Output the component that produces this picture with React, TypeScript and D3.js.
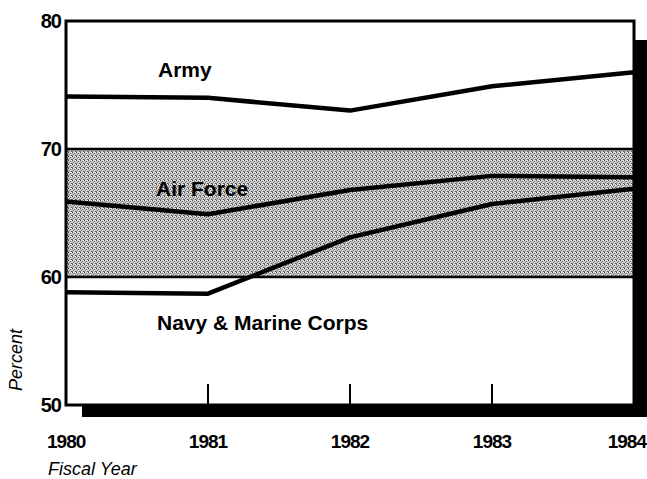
import React from "react";
import * as d3 from "d3";

const years = [1980, 1981, 1982, 1983, 1984];
const army = [74.1, 74.0, 73.0, 74.9, 76.0];
const airForce = [65.9, 64.9, 66.8, 67.9, 67.8];
const navy = [58.8, 58.7, 63.1, 65.7, 66.9];
const yTicks = [50, 60, 70, 80];
const band = [60, 70];

const W = 647;
const H = 479;
const left = 66;
const right = 634;
const top = 21;
const bottom = 405;

const App = () => {
  const x = d3.scaleLinear().domain([1980, 1984]).range([left, right]);
  const y = d3.scaleLinear().domain([50, 80]).range([bottom, top]);

  const line = d3
    .line<number>()
    .x((_, i) => x(years[i]))
    .y((d) => y(d));

  const series = [
    { name: "Army", values: army, lx: 158, ly: 77 },
    { name: "Air Force", values: airForce, lx: 156, ly: 196 },
    { name: "Navy & Marine Corps", values: navy, lx: 157, ly: 330 },
  ];

  const font = "'Liberation Sans', Arial, sans-serif";

  return (
    <svg
      width={W}
      height={H}
      style={{ position: "absolute", left: 0, top: 0, background: "#fff" }}
    >
      <defs>
        <pattern id="stipple" width="4" height="4" patternUnits="userSpaceOnUse">
          <rect width="4" height="4" fill="#c4c4c4" />
          <rect x="0" y="0" width="1" height="1" fill="#444" />
          <rect x="2" y="1" width="1" height="1" fill="#666" />
          <rect x="1" y="2" width="1" height="1" fill="#777" />
          <rect x="3" y="3" width="1" height="1" fill="#555" />
          <rect x="3" y="0" width="1" height="1" fill="#f4f4f4" />
          <rect x="0" y="3" width="1" height="1" fill="#888" />
          <rect x="2" y="2" width="1" height="1" fill="#f4f4f4" />
          <rect x="1" y="0" width="1" height="1" fill="#e8e8e8" />
        </pattern>
      </defs>

      {/* drop shadow */}
      <rect x={right} y={40} width={W - right} height={417 - 40} fill="#000" />
      <rect x={82} y={bottom} width={W - 82} height={12} fill="#000" />

      {/* shaded band */}
      <rect
        x={left}
        y={y(band[1])}
        width={right - left}
        height={y(band[0]) - y(band[1])}
        fill="url(#stipple)"
      />
      {band.map((b) => (
        <line
          key={b}
          x1={left}
          x2={right}
          y1={y(b)}
          y2={y(b)}
          stroke="#000"
          strokeWidth={2.5}
        />
      ))}

      {/* frame */}
      <rect
        x={left}
        y={top}
        width={right - left}
        height={bottom - top}
        fill="none"
        stroke="#000"
        strokeWidth={3}
      />

      {/* year ticks */}
      {years.slice(1, 4).map((yr) => (
        <line
          key={yr}
          x1={x(yr)}
          x2={x(yr)}
          y1={bottom}
          y2={bottom - 21}
          stroke="#000"
          strokeWidth={2}
        />
      ))}

      {/* series */}
      {series.map((s) => (
        <g key={s.name}>
          <path
            d={line(s.values) || ""}
            fill="none"
            stroke="#000"
            strokeWidth={4.5}
            strokeLinejoin="round"
          />
          <text
            x={s.lx}
            y={s.ly}
            fontFamily={font}
            fontWeight="bold"
            fontSize={21}
            fill="#000"
          >
            {s.name}
          </text>
        </g>
      ))}

      {/* y tick labels */}
      {yTicks.map((t) => (
        <text
          key={t}
          x={61}
          y={y(t) + 7}
          textAnchor="end"
          fontFamily={font}
          fontWeight="bold"
          fontSize={20}
          letterSpacing={-1}
        >
          {t}
        </text>
      ))}

      {/* x tick labels */}
      {years.map((yr, i) => (
        <text
          key={yr}
          x={i === 0 ? 47 : i === years.length - 1 ? 646 : x(yr)}
          y={448}
          textAnchor={i === 0 ? "start" : i === years.length - 1 ? "end" : "middle"}
          fontFamily={font}
          fontWeight="bold"
          fontSize={19}
          letterSpacing={-1}
        >
          {yr}
        </text>
      ))}

      <text
        transform="translate(22,360) rotate(-90)"
        textAnchor="middle"
        fontFamily={font}
        fontStyle="italic"
        fontSize={18}
      >
        Percent
      </text>
      <text x={48} y={475} fontFamily={font} fontStyle="italic" fontSize={18}>
        Fiscal Year
      </text>
    </svg>
  );
};

export default App;
